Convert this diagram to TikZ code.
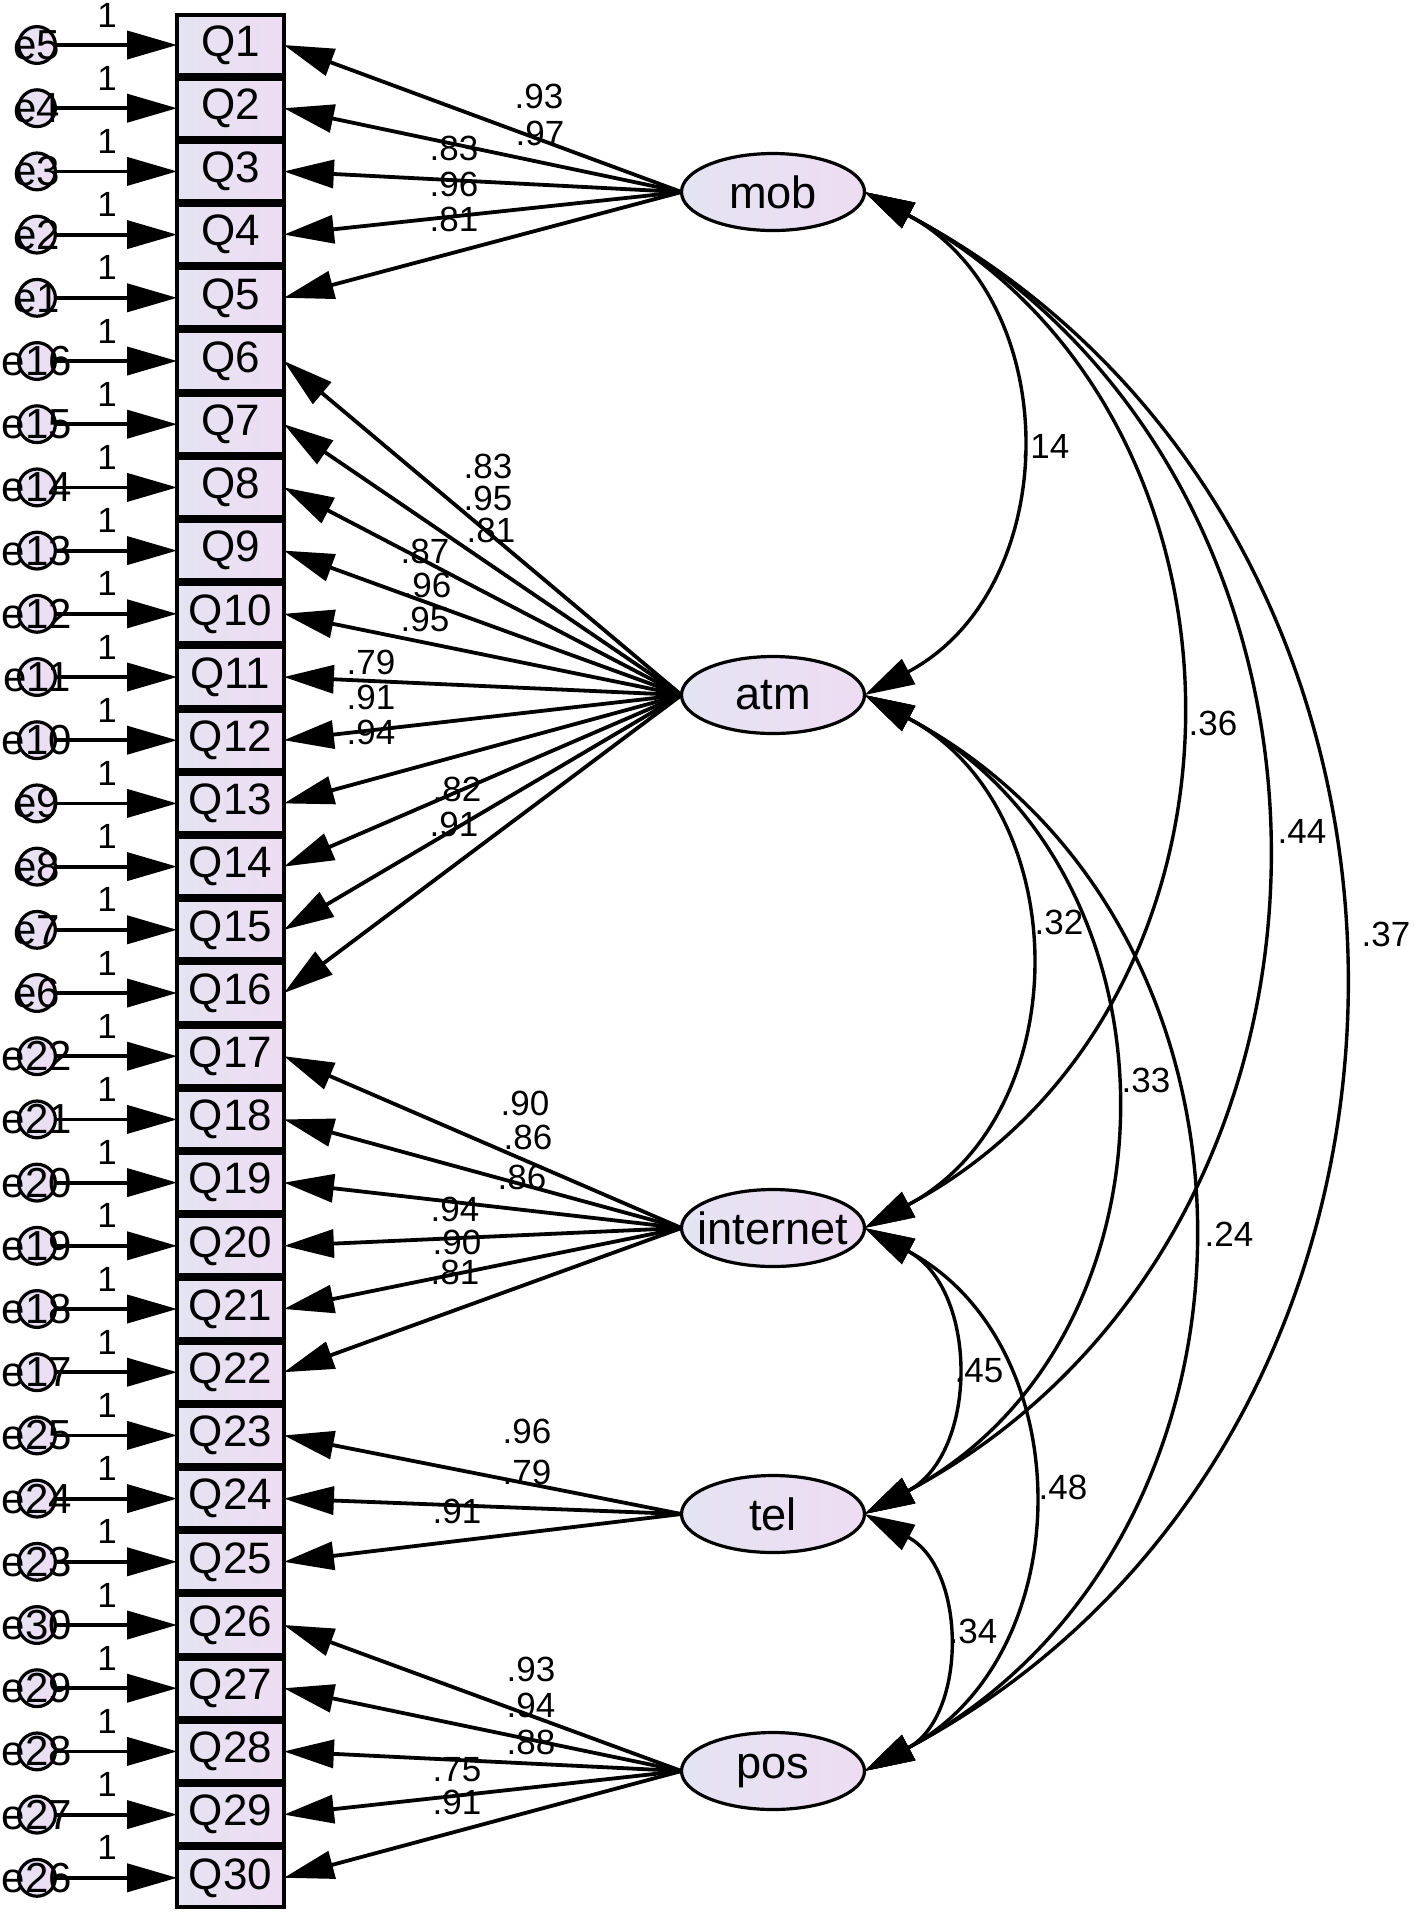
\documentclass[tikz,border=0pt]{standalone}
\usepackage{fontspec}
\setmainfont{Liberation Sans}
\usetikzlibrary{arrows.meta,shapes.geometric}
\definecolor{fillL}{HTML}{E4E4F2}
\definecolor{fillR}{HTML}{EEDCF3}
\begin{document}
\begin{tikzpicture}[x=0.25pt,y=0.25pt,
  every node/.style={inner sep=0pt, outer sep=0pt},
  obs/.style={rectangle, draw, line width=1pt, minimum width=26.7pt, minimum height=14.8pt, left color=fillL, right color=fillR, font=\fontsize{11}{11}\selectfont},
  err/.style={circle, draw, line width=0.8pt, minimum size=9.2pt, left color=fillL, right color=fillR},
  errlab/.style={font=\fontsize{10.5}{10.5}\selectfont},
  lat/.style={ellipse, draw, line width=0.8pt, inner xsep=-3.5pt, minimum width=45.75pt, minimum height=19.25pt, left color=fillL, right color=fillR, font=\fontsize{11.3}{11.3}\selectfont},
  num/.style={font=\fontsize{8.75}{8.75}\selectfont},
  arr/.style={line width=0.95pt, -{Triangle[length=12.5pt,width=7pt]}},
  cov/.style={line width=0.85pt, {Triangle[length=12.5pt,width=7pt]}-{Triangle[length=12.5pt,width=7pt]}, bend left=62, looseness=1.16},
]
\fill[white] (0,0) rectangle (1418,-1921);
\useasboundingbox (0,0) rectangle (1418,-1921);

% observed variables, error terms
\foreach \i/\e in {1/5,2/4,3/3,4/2,5/1,6/16,7/15,8/14,9/13,10/12,11/11,12/10,13/9,14/8,15/7,16/6,17/22,18/21,19/20,20/19,21/18,22/17,23/25,24/24,25/23,26/30,27/29,28/28,29/27,30/26} {
  \pgfmathsetmacro{\yy}{-(45+63.2*(\i-1))}
  \node[obs] (Q\i) at (230.5,\yy) {Q\i};
  \node[err, label={[errlab]center:e\e}] (e\e) at (37,\yy) {};
  \draw[arr] (e\e) -- (Q\i.west);
  \node[num] (one\i) at (107,\yy+30) {1};
}
% group separators
\draw[fillR, line width=0.4pt] (179,-334.4) -- (282,-334.4);
\draw[fillR, line width=0.4pt] (179,-1029.6) -- (282,-1029.6);

% latent variables
\node[lat] (mob) at (773,-192) {mob};
\node[lat] (atm) at (773,-695) {atm};
\node[lat] (internet) at (773,-1228) {internet};
\node[lat] (tel) at (773,-1514) {tel};
\node[lat] (pos) at (773,-1771) {pos};

% loadings
\foreach \i in {1,...,5} \draw[arr] (mob.west) -- (Q\i.east);
\foreach \i in {6,...,16} \draw[arr] (atm.west) -- (Q\i.east);
\foreach \i in {17,...,22} \draw[arr] (internet.west) -- (Q\i.east);
\foreach \i in {23,...,25} \draw[arr] (tel.west) -- (Q\i.east);
\foreach \i in {26,...,30} \draw[arr] (pos.west) -- (Q\i.east);

% loading labels
\node[num] (m1) at (539,-96) {.93};
\node[num] (m2) at (540,-133) {.97};
\node[num] (m3) at (454,-148) {.83};
\node[num] (m4) at (454,-184) {.96};
\node[num] (m5) at (454,-219) {.81};

\node[num] (a1) at (488,-466) {.83};
\node[num] (a2) at (488,-498) {.95};
\node[num] (a3) at (491,-530) {.81};
\node[num] (a4) at (425,-551) {.87};
\node[num] (a5) at (427,-585) {.96};
\node[num] (a6) at (425,-619) {.95};
\node[num] (a7) at (371,-662) {.79};
\node[num] (a8) at (371,-697) {.91};
\node[num] (a9) at (371,-732) {.94};
\node[num] (a10) at (457,-789) {.82};
\node[num] (a11) at (454,-824) {.91};

\node[num] (i1) at (525,-1103) {.90};
\node[num] (i2) at (528,-1137) {.86};
\node[num] (i3) at (522,-1177) {.86};
\node[num] (i4) at (455,-1209) {.94};
\node[num] (i5) at (457,-1242) {.90};
\node[num] (i6) at (455,-1272) {.81};

\node[num] (t1) at (527,-1431) {.96};
\node[num] (t2) at (527,-1472) {.79};
\node[num] (t3) at (457,-1511) {.91};

\node[num] (p1) at (531,-1669) {.93};
\node[num] (p2) at (531,-1705) {.94};
\node[num] (p3) at (531,-1742) {.88};
\node[num] (p4) at (457,-1770) {.75};
\node[num] (p5) at (457,-1802) {.91};

% covariances
\draw[cov] (mob.east) to (atm.east);
\draw[cov] (mob.east) to (internet.east);
\draw[cov] (mob.east) to (tel.east);
\draw[cov] (mob.east) to (pos.east);
\draw[cov] (atm.east) to (internet.east);
\draw[cov] (atm.east) to (tel.east);
\draw[cov] (atm.east) to (pos.east);
\draw[cov] (internet.east) to (tel.east);
\draw[cov] (internet.east) to (pos.east);
\draw[cov] (tel.east) to (pos.east);

% covariance labels
\node[num] (c1) at (1045,-446) {.14};
\node[num] (c2) at (1213,-723) {.36};
\node[num] (c3) at (1302,-831) {.44};
\node[num] (c4) at (1386,-934) {.37};
\node[num] (c5) at (1059,-922) {.32};
\node[num] (c6) at (1146,-1080) {.33};
\node[num] (c7) at (1229,-1234) {.24};
\node[num] (c8) at (979,-1371) {.45};
\node[num] (c9) at (1063,-1487) {.48};
\node[num] (c10) at (973,-1631) {.34};
\end{tikzpicture}
\end{document}
